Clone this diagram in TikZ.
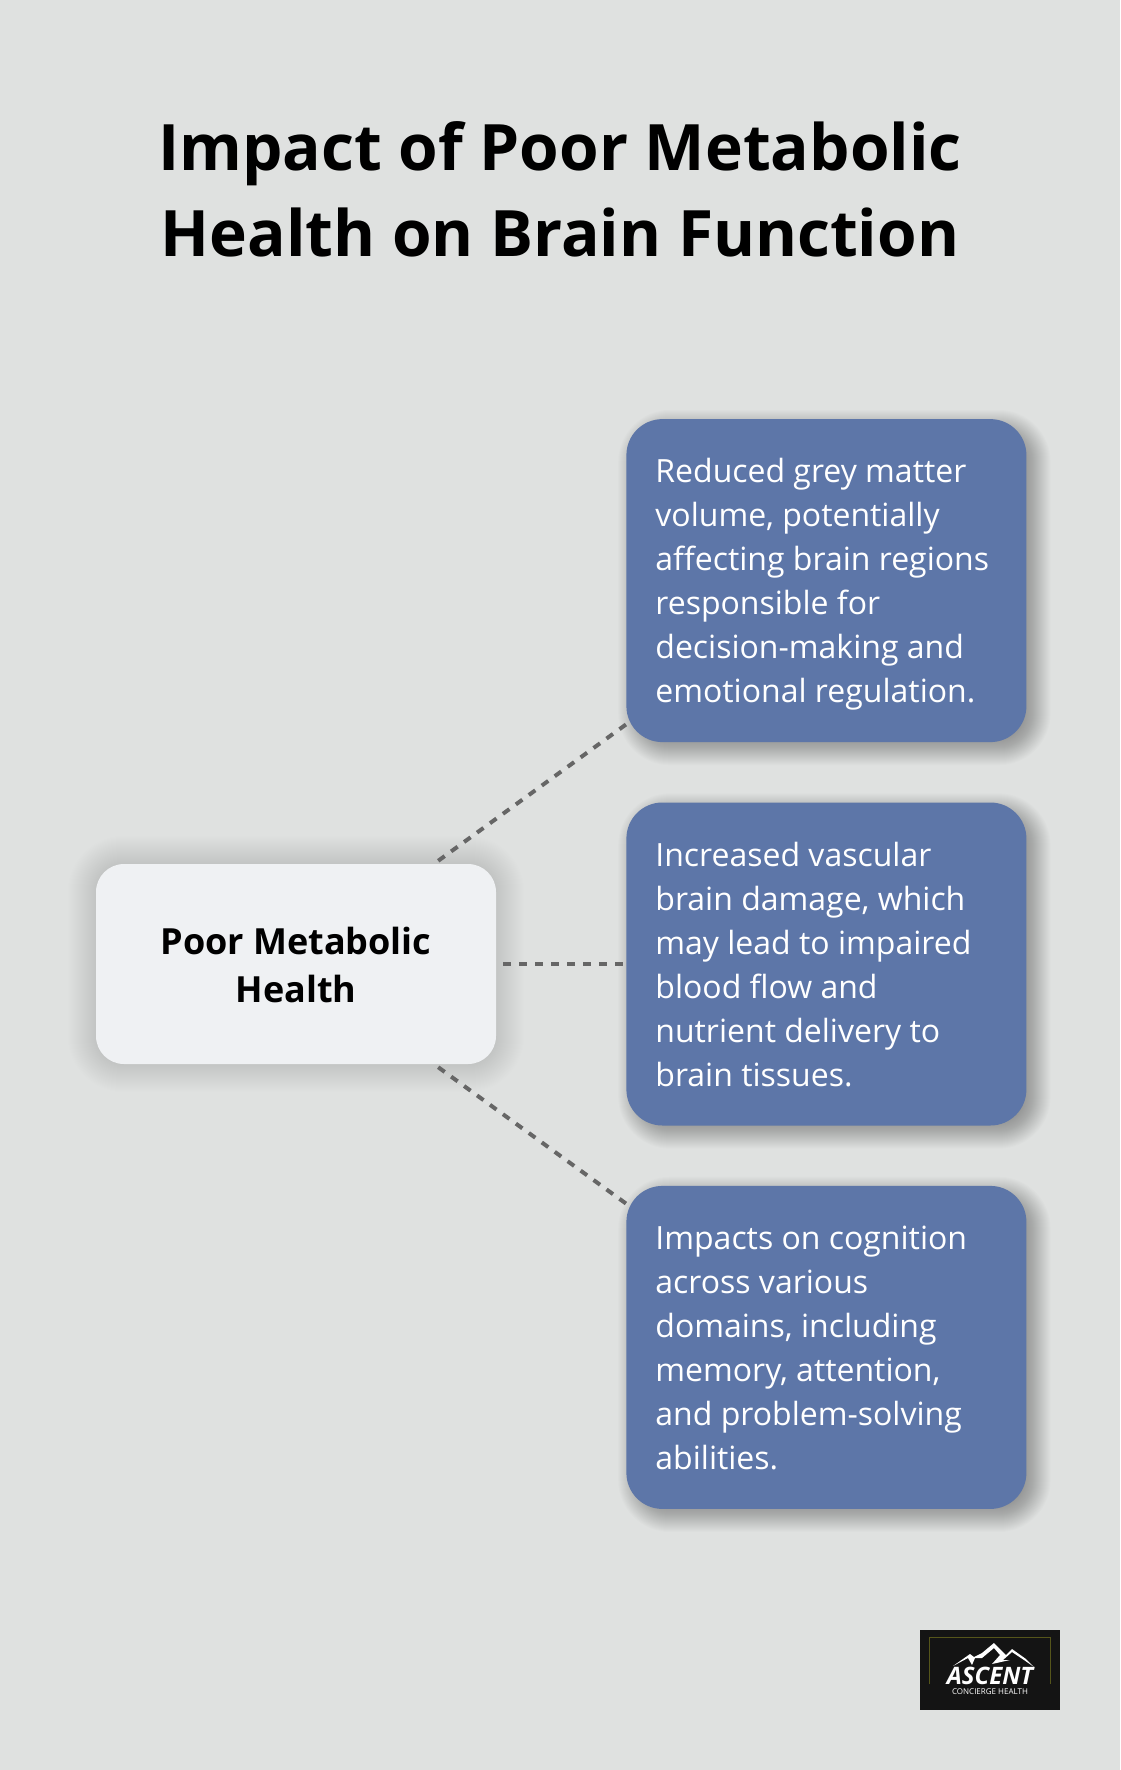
\documentclass[tikz,border=0pt]{standalone}
\usepackage{fontspec}
\setmainfont{Open Sans}
\usepackage{xcolor}
\usetikzlibrary{positioning,backgrounds}
\definecolor{pagegrey}{HTML}{DFE1E0}
\definecolor{boxblue}{HTML}{5D76A8}
\definecolor{boxlight}{HTML}{EFF1F3}
\definecolor{dashgrey}{HTML}{666666}
\definecolor{logoblack}{HTML}{141414}
\definecolor{logoolive}{HTML}{55551A}
\tikzstyle{title} = [align=center, font=\bfseries\fontsize{64}{86}\selectfont]
\tikzstyle{cause} = [rectangle, rounded corners=28pt, fill=boxlight, minimum width=400pt, minimum height=200pt, inner ysep=0pt, text height=76pt, text depth=0pt, align=center, font=\bfseries\fontsize{36}{48}\selectfont]
\tikzstyle{effect} = [rectangle, rounded corners=36pt, fill=boxblue, text=white, text width=342pt, minimum width=400pt, minimum height=323pt, inner xsep=29pt, inner ysep=0pt, text height=30pt, text depth=226pt, align=flush left, font=\fontsize{32}{44}\selectfont]
\tikzstyle{line} = [draw=dashgrey, line width=4pt, dash pattern=on 8pt off 8pt]
% soft shadow: name, corner radius, x offset, y offset, opacity per layer, spread
\newcommand{\softshadow}[6]{
    \foreach \g in {-10,-9,...,#6}
        \fill [black, opacity=#5, rounded corners=#2pt+\g pt]
            ([shift={(#3pt-\g pt,#4pt+\g pt)}]#1.north west) rectangle ([shift={(#3pt+\g pt,#4pt-\g pt)}]#1.south east);
}
\begin{document}
\begin{tikzpicture}[node distance = 60pt]
    \useasboundingbox (0,0) rectangle (1120pt,-1770pt);
    % Place nodes
    \node [title] (heading) at (560pt,-189.5pt) {Impact of Poor Metabolic\\Health on Brain Function};
    \node [cause] (metabolic) at (296pt,-964pt) {Poor Metabolic\\Health};
    \node [effect, right=130pt of metabolic] (vascular) {Increased vascular\\brain damage, which\\may lead to impaired\\blood flow and\\nutrient delivery to\\brain tissues.};
    \node [effect, above=of vascular] (grey) {Reduced grey matter\\volume, potentially\\affecting brain regions\\responsible for\\decision-making and\\emotional regulation.};
    \node [effect, below=of vascular] (cognition) {Impacts on cognition\\across various\\domains, including\\memory, attention,\\and problem-solving\\abilities.};

    \begin{pgfonlayer}{background}
        \fill [pagegrey] (0,0) rectangle (1120pt,-1770pt);
        \softshadow{metabolic}{28}{0}{0}{0.0035}{28}
        \softshadow{grey}{36}{8}{-7}{0.011}{16}
        \softshadow{vascular}{36}{8}{-7}{0.011}{16}
        \softshadow{cognition}{36}{8}{-7}{0.011}{16}
    \end{pgfonlayer}

    % Connectors
    \path [line] ([xshift=-58pt,yshift=3pt]metabolic.north east) -- ([yshift=18pt]grey.south west);
    \path [line] ([xshift=7pt]metabolic.east) -- ([xshift=-3pt]vascular.west);
    \path [line] ([xshift=-58pt,yshift=-3pt]metabolic.south east) -- ([yshift=-18pt]cognition.north west);

    % Logo
    \node [fill=logoblack, minimum width=140pt, minimum height=80pt, inner sep=0pt] (logo) at (990pt,-1670pt) {};
    \draw [logoolive, line width=1pt] (929pt,-1684pt) -- (929pt,-1637pt) -- (1050pt,-1637pt) -- (1050pt,-1684pt);
    \fill [white] (953pt,-1666pt) -- (970pt,-1654pt) -- (974pt,-1657pt) -- (982pt,-1653pt) -- (994pt,-1643pt) -- (1006pt,-1655pt) -- (1012pt,-1649pt) -- (1026pt,-1659pt) -- (1034pt,-1667pt) -- (1024pt,-1660pt) -- (1012pt,-1652pt) -- (1003pt,-1660pt) -- (1010pt,-1660pt) -- (992pt,-1664pt) -- (1000pt,-1655pt) -- (994pt,-1648pt) -- (982pt,-1658pt) -- (975pt,-1658pt) -- (972pt,-1665pt) -- (968pt,-1658pt) -- cycle;
    \node [text=white, inner sep=0pt, font=\bfseries\itshape\fontsize{24}{24}\selectfont] (logoname) at (990pt,-1676pt) {ASCENT};
    \node [text=white, inner sep=0pt, font=\fontsize{8}{8}\selectfont] (logotag) at (990pt,-1692pt) {CONCIERGE HEALTH};
\end{tikzpicture}
\end{document}
